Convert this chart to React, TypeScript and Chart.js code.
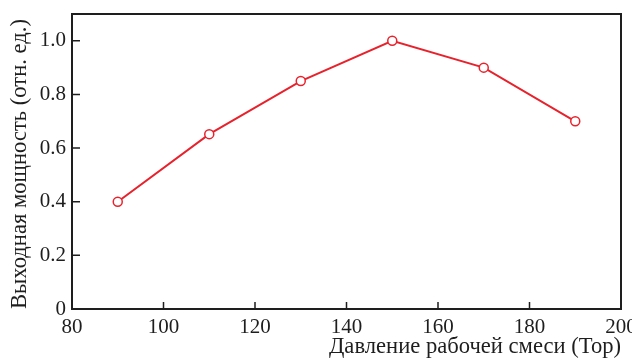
import React, { useEffect, useRef } from "react";
import { Chart, registerables } from "chart.js";

Chart.register(...registerables);

const pressure = [90, 110, 130, 150, 170, 190];
const power = [0.4, 0.652, 0.85, 1.0, 0.9, 0.7];
const xTitle = "Давление рабочей смеси (Тор)";
const yTitle = "Выходная мощность (отн. ед.)";

const FONT = "'Liberation Serif', 'Times New Roman', serif";
const INK = "#1e1e1e";
const RED = "#e8222c";

const framePlugin = {
  id: "frame",
  afterDraw(chart: any) {
    const { ctx, chartArea } = chart;
    const { left, right, top, bottom } = chartArea;
    ctx.save();
    ctx.strokeStyle = INK;
    ctx.lineWidth = 1.5;
    const xs = chart.scales.x;
    const ys = chart.scales.y;
    ctx.beginPath();
    xs.ticks.forEach((t: any) => {
      const px = xs.getPixelForValue(t.value);
      if (px <= left + 1 || px >= right - 1) return;
      ctx.moveTo(px, bottom);
      ctx.lineTo(px, bottom - 7);
    });
    ys.ticks.forEach((t: any) => {
      const py = ys.getPixelForValue(t.value);
      if (py >= bottom - 1 || py <= top + 1) return;
      ctx.moveTo(left, py);
      ctx.lineTo(left + 8, py);
    });
    ctx.stroke();
    ctx.lineWidth = 2;
    ctx.strokeRect(left, top, right - left, bottom - top);
    ctx.restore();
  },
};

export default function App() {
  const ref = useRef<HTMLCanvasElement | null>(null);
  useEffect(() => {
    document.body.style.margin = "0";
    if (!ref.current) return;
    const chart = new Chart(ref.current, {
      type: "line",
      data: {
        datasets: [
          {
            data: pressure.map((x, i) => ({ x, y: power[i] })),
            borderColor: RED,
            borderWidth: 2,
            pointRadius: 4.5,
            pointBorderWidth: 1.5,
            pointBackgroundColor: "#ffffff",
            pointBorderColor: RED,
            tension: 0,
          },
        ],
      },
      options: {
        animation: false,
        responsive: false,
        maintainAspectRatio: false,
        layout: { padding: { top: 14, right: 11, left: 0, bottom: 0 } },
        plugins: { legend: { display: false }, tooltip: { enabled: false } },
        scales: {
          x: {
            type: "linear",
            min: 80,
            max: 200,
            grid: { display: false, drawTicks: false },
            border: { display: false },
            ticks: {
              stepSize: 20,
              padding: 6,
              color: INK,
              maxRotation: 0,
              font: { family: FONT, size: 21 },
            },
            title: {
              display: true,
              text: xTitle,
              align: "end",
              color: INK,
              padding: { top: 0, bottom: 0 },
              font: { family: FONT, size: 22.6, lineHeight: 1.2 },
            },
            afterFit(s: any) {
              s.height = 52;
              s.paddingLeft = 0;
              s.paddingRight = 0;
            },
          },
          y: {
            min: 0,
            max: 1.1,
            grid: { display: false, drawTicks: false },
            border: { display: false },
            ticks: {
              stepSize: 0.2,
              includeBounds: false,
              padding: 6,
              color: INK,
              font: { family: FONT, size: 21 },
              callback: (v: any) => (Number(v) === 0 ? "0" : Number(v).toFixed(1)),
            },
            title: {
              display: true,
              text: yTitle,
              align: "start",
              color: INK,
              padding: { top: 7, bottom: 0 },
              font: { family: FONT, size: 22.6, lineHeight: 1.2 },
            },
            afterFit(s: any) {
              s.width = 72;
              s.paddingTop = 0;
              s.paddingBottom = 0;
            },
          },
        },
      },
      plugins: [framePlugin],
    });
    return () => chart.destroy();
  }, []);
  return (
    <div style={{ width: 632, height: 361 }}>
      <canvas ref={ref} width={632} height={361} style={{ display: "block" }} />
    </div>
  );
}
